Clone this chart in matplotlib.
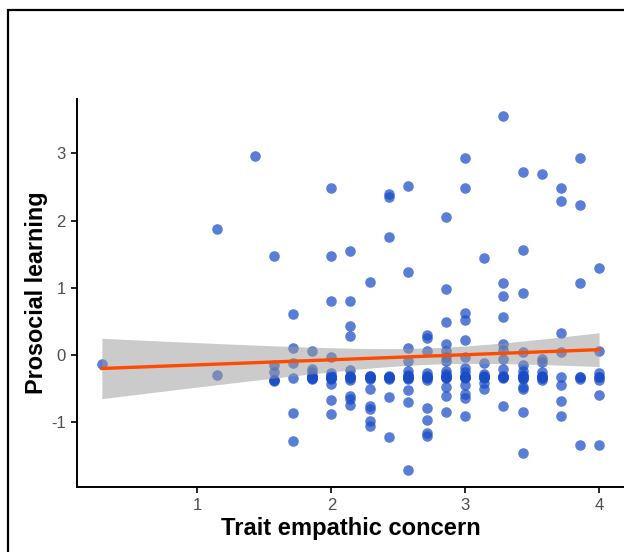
import numpy as np
import matplotlib
matplotlib.use("Agg")
import matplotlib.pyplot as plt
from matplotlib.patches import Rectangle

plt.rcParams['font.family'] = ['Liberation Sans', 'DejaVu Sans']
plt.rcParams['axes.unicode_minus'] = False

# trait empathic concern levels (k/7) and prosocial learning values read per level
# (dark clusters near -0.3 hold several overlapping participants)
score_levels = [2/7, 8/7, 10/7, 11/7, 12/7, 13/7, 14/7, 15/7, 16/7, 17/7, 18/7,
                19/7, 20/7, 21/7, 22/7, 23/7, 24/7, 25/7, 26/7, 27/7, 28/7]
learning_by_level = [
    [-0.13],
    [1.88, -0.30],
    [2.96],
    [1.47, -0.14, -0.25, -0.37, -0.38, -0.37],
    [0.61, 0.11, -0.12, -0.34, -0.86, -1.28],
    [0.06, -0.21, -0.25, -0.33, -0.35, -0.31, -0.33, -0.34, -0.32, -0.33, -0.34],
    [2.48, 1.47, 0.80, -0.03, -0.27, -0.32, -0.36, -0.43, -0.67, -0.88,
     -0.31, -0.33, -0.34, -0.32, -0.33, -0.34],
    [1.55, 0.80, 0.43, 0.29, -0.22, -0.32, -0.37, -0.61, -0.65, -0.74, -0.31, -0.33, -0.34, -0.32],
    [1.09, -0.31, -0.36, -0.50, -0.75, -0.80, -0.98, -1.06, -0.31, -0.33, -0.34, -0.32],
    [2.40, 2.35, 1.76, -0.32, -0.36, -0.62, -1.21, -0.31, -0.33, -0.34, -0.32],
    [2.52, 1.23, 0.10, -0.09, -0.24, -0.29, -0.35, -0.52, -0.70, -1.70, -0.31, -0.33, -0.34, -0.32],
    [0.30, 0.25, 0.06, -0.27, -0.32, -0.37, -0.78, -0.96, -1.15, -1.20, -0.31, -0.33, -0.34, -0.32],
    [2.06, 0.98, 0.49, 0.16, 0.06, -0.03, -0.09, -0.23, -0.28, -0.33, -0.47, -0.60, -0.85,
     -0.31, -0.33, -0.34, -0.32],
    [2.93, 2.49, 0.63, 0.53, 0.22, -0.02, -0.19, -0.25, -0.33, -0.45, -0.58, -0.63, -0.91,
     -0.31, -0.33, -0.34, -0.32],
    [1.44, -0.12, -0.28, -0.33, -0.41, -0.50, -0.31, -0.33, -0.34, -0.32],
    [3.55, 1.07, 0.88, 0.57, 0.17, 0.07, -0.06, -0.21, -0.32, -0.75, -0.31, -0.33, -0.34, -0.32],
    [2.72, 1.57, 0.92, 0.05, -0.15, -0.23, -0.30, -0.35, -0.48, -0.51, -0.84, -1.45,
     -0.31, -0.33, -0.34, -0.32],
    [2.70, -0.05, -0.10, -0.25, -0.33, -0.37, -0.31, -0.33, -0.34, -0.32],
    [2.49, 2.29, 0.33, 0.05, -0.32, -0.45, -0.68, -0.90],
    [2.93, 2.23, 1.07, -0.32, -0.35, -1.33, -0.33],
    [1.29, 0.06, -0.27, -0.32, -0.37, -0.59, -1.33, -0.33],
]
x_ticks = [1, 2, 3, 4]
y_ticks = [-1, 0, 1, 2, 3]

x = np.concatenate([[lv] * len(v) for lv, v in zip(score_levels, learning_by_level)])
y = np.concatenate(learning_by_level)

# linear fit with 95% confidence band
n = len(x)
slope, intercept = np.polyfit(x, y, 1)
resid = y - (intercept + slope * x)
s = np.sqrt(np.sum(resid ** 2) / (n - 2))
xbar = x.mean()
sxx = np.sum((x - xbar) ** 2)
xs = np.linspace(x.min(), x.max(), 100)
fit = intercept + slope * xs
se = s * np.sqrt(1 / n + (xs - xbar) ** 2 / sxx)
t = 1.972

fig = plt.figure(figsize=(6.24, 5.52), dpi=100)
ax = fig.add_axes([77 / 624, (552 - 487) / 552, (624 - 77) / 624, (487 - 99) / 552])

ax.scatter(x, y, s=58, color='#1a4cc6', alpha=0.72, linewidths=0, zorder=2)
ax.fill_between(xs, fit - t * se, fit + t * se, color='#999999', alpha=0.5, linewidth=0, zorder=3)
ax.plot(xs, fit, color='#ff4a00', lw=2.4, zorder=4)

ax.set_xlim(0.1, 4.186)
ax.set_ylim(-1.96, 3.81)
ax.set_xticks(x_ticks)
ax.set_yticks(y_ticks)
for side in ['top', 'right']:
    ax.spines[side].set_visible(False)
for side in ['left', 'bottom']:
    ax.spines[side].set_linewidth(1.4)
ax.tick_params(length=4, width=1.2, labelsize=12, labelcolor='#4d4d4d', pad=4)
ax.set_xlabel('Trait empathic concern', fontsize=17.1, fontweight='bold', labelpad=3)
ax.set_ylabel('Prosocial learning', fontsize=16.8, fontweight='bold', labelpad=2)

# outer frame (cropped at right and bottom)
fig.patches.append(Rectangle((8 / 624, -0.5), 2, 1.5 - 10 / 552, transform=fig.transFigure,
                             fill=False, edgecolor='black', lw=1.6, clip_on=False))

fig.savefig('out.png', dpi=100)
